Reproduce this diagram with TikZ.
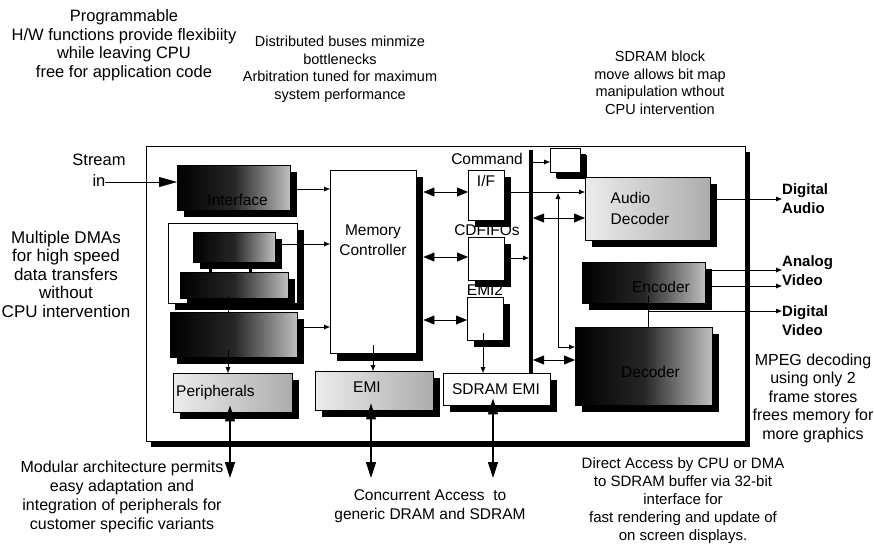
\documentclass[tikz,border=0pt]{standalone}
\usepackage{fontspec}
\setmainfont{Liberation Sans}
\usetikzlibrary{arrows.meta,shadows}
\begin{document}
\begin{tikzpicture}[x=1pt,y=-1pt,
  ann/.style={font=\fontsize{16}{18.5}\selectfont, align=center, inner sep=0},
  outl/.style={font=\bfseries\fontsize{15}{19}\selectfont, align=left, inner sep=0, anchor=west},
  lbl/.style={font=\fontsize{15.5}{17}\selectfont, inner sep=0},
  shad/.style={drop shadow={shadow xshift=7pt, shadow yshift=-7pt, fill=black, opacity=1}},
  wbox/.style={draw, fill=white, shad, anchor=north west, inner sep=0},
  dbox/.style={draw, left color=black, right color=gray!50, middle color=black!85, shad, anchor=north west, inner sep=0},
  lbox/.style={draw, left color=gray!15, right color=gray!65, shad, anchor=north west, inner sep=0},
  sarr/.style={-{Latex[length=6,width=5]}, thin},
  darr/.style={{Triangle[length=11,width=9]}-{Triangle[length=11,width=9]}, thin},
  vdarr/.style={{Triangle[length=16,width=10]}-{Triangle[length=16,width=10]}, line width=1.2},
]
\useasboundingbox (0,0) rectangle (874,547);

% outer box
\node[draw, fill=white, drop shadow={shadow xshift=5pt, shadow yshift=-6pt, fill=black, opacity=1},
  minimum width=599, minimum height=295, anchor=north west, inner sep=0] (outer) at (146,146) {};

% left column
\node[dbox, minimum width=113, minimum height=45] (iface) at (177,165) {};
\node[lbl, anchor=east] (ifacet) at (268,200) {Interface};
\node[wbox, minimum width=129, minimum height=80] (grp) at (168,223) {};
\node[dbox, minimum width=82, minimum height=30] (dma1) at (193,232) {};
\node[dbox, minimum width=108, minimum height=26] (dma2) at (180,272) {};
\draw[line width=3] (dma1.south -| 210,0) -- (dma2.north -| 210,0);
\draw[line width=3] (dma1.south -| 250,0) -- (dma2.north -| 250,0);
\node[dbox, minimum width=127, minimum height=45] (dma3) at (170,312) {};
\node[lbox, minimum width=119, minimum height=39] (periph) at (173,373) {};
\node[lbl, anchor=west] (periphl) at (176,392) {Peripherals};

% memory controller
\node[wbox, minimum width=86, minimum height=183, drop shadow={shadow xshift=7pt, shadow yshift=-8pt, fill=black, opacity=1}] (mc) at (330,170) {};
\node[lbl, align=center, font=\fontsize{15.5}{20}\selectfont] (mct) at (373,240) {Memory\\Controller};

% FIFO column
\node[wbox, minimum width=36, minimum height=50] (cmd) at (468,170) {};
\node[lbl] (cmdl) at (487,159) {Command};
\node[lbl] (cmdt) at (486,181) {I/F};
\node[wbox, minimum width=36, minimum height=43] (cdf) at (468,237) {};
\node[lbl] (cdfl) at (487,230) {CDFIFOs};
\node[wbox, minimum width=36, minimum height=43] (emi2) at (467,297) {};
\node[lbl] (emi2l) at (485,290) {EMI2};

% EMIs
\node[lbox, minimum width=118, minimum height=39] (emi) at (315,371) {};
\node[lbl] (emit) at (367,387) {EMI};
\node[wbox, minimum width=107, minimum height=32] (sdemi) at (443,373) {};
\node[lbl] (sdemit) at (496,389) {SDRAM EMI};

% bus
\coordinate (bustop) at (531,150);
\coordinate (busbot) at (531,373);
\draw[line width=4] (bustop) -- (busbot);

% right column
\node[wbox, minimum width=30, minimum height=24, drop shadow={shadow xshift=6pt, shadow yshift=-6pt, fill=black, opacity=1}] (small) at (550,148) {};
\node[lbox, minimum width=125, minimum height=63] (audio) at (585,177) {};
\node[lbl, align=left, font=\fontsize{15.5}{21}\selectfont] (audiot) at (640,208) {Audio\\Decoder};
\node[dbox, minimum width=123, minimum height=41] (enc) at (582,262) {};
\node[lbl, anchor=east] (enct) at (690,287) {Encoder};
\node[dbox, minimum width=137, minimum height=78] (dec) at (575,327) {};
\node[lbl, anchor=east] (dect) at (680,372) {Decoder};

% connectors left
\coordinate (sin) at (105,182);
\draw[-{Triangle[length=18,width=10]}, thin] (sin) -- (iface.west |- sin);
\draw[sarr] ([xshift=7]iface.east |- 0,189) -- (mc.west |- 0,189);
\draw[sarr] ([xshift=7]dma1.east |- 0,244) -- (mc.west |- 0,244);
\draw[sarr] ([xshift=7]dma3.east |- 0,327) -- (mc.west |- 0,327);
\draw[thin] ([yshift=7]grp.south -| 228,0) -- (dma3.north -| 228,0);
\draw[sarr] ([yshift=7]dma3.south -| 228,0) -- (periph.north -| 228,0);

% MC <-> FIFOs
\draw[darr] ([xshift=7]mc.east |- 0,192) -- (cmd.west |- 0,192);
\draw[darr] ([xshift=7]mc.east |- 0,257) -- (cdf.west |- 0,257);
\draw[darr] ([xshift=7]mc.east |- 0,320) -- (emi2.west |- 0,320);
\draw[sarr] ([yshift=8]mc.south -| 373,0) -- (emi.north -| 373,0);
\draw[sarr] ([yshift=7]emi2.south -| 483,0) -- (sdemi.north -| 483,0);

% bus connections
\draw[sarr] ([xshift=7]cmd.east |- 0,192) -- (audio.west |- 0,192);
\draw[sarr] ([xshift=7]cdf.east |- 0,258) -- ([xshift=-2]bustop |- 0,258);
\draw[sarr] ([xshift=2]bustop |- 0,162) -- (small.west |- 0,162);
\draw[darr] ([xshift=2]bustop |- 0,218) -- (audio.west |- 0,218);
\draw[darr] ([xshift=2]bustop |- 0,360) -- (dec.west |- 0,360);
\draw[{Latex[length=6,width=5]}-{Latex[length=6,width=5]}, thin] (558,193) -- (558,347) -- (dec.west |- 0,347);

% outputs
\node[outl] (dauo) at (782,199) {Digital\\Audio};
\node[outl] (avo) at (782,271) {Analog\\Video};
\node[outl] (dvo) at (782,321) {Digital\\Video};
\draw[sarr] ([xshift=7]audio.east |- 0,199) -- (dauo.west |- 0,199);
\draw[sarr] ([xshift=7]enc.east |- 0,270) -- (avo.west |- 0,270);
\draw[sarr] ([xshift=7]enc.east |- 0,286) -- (avo.west |- 0,286);
\draw[thin] ([yshift=7]enc.south -| 648,0) -- (dec.north -| 648,0);
\draw[sarr] (648,311) -- (dvo.west |- 0,311);

% bottom arrows
\draw[vdarr] ([yshift=7]periph.south -| 230,0) -- (230,478);
\draw[vdarr] ([yshift=7]emi.south -| 371,0) -- (371,478);
\draw[vdarr] ([yshift=7]sdemi.south -| 493,0) -- (493,478);

% annotations
\node[ann, font=\fontsize{16.5}{18.5}\selectfont] (t1) at (124,45) {Programmable\\H/W functions provide flexibiity\\while leaving CPU\\free for application code};
\node[ann, font=\fontsize{14.5}{17.5}\selectfont] (t2) at (340,69) {Distributed buses minmize\\bottlenecks\\Arbitration tuned for maximum\\system performance};
\node[ann, font=\fontsize{14.5}{17.5}\selectfont] (t3) at (660,83) {SDRAM block\\move allows bit map\\manipulation wthout\\CPU intervention};
\node[ann, font=\fontsize{16.5}{21}\selectfont] (t4) at (99,170) {Stream\\in};
\node[ann, font=\fontsize{17}{18.5}\selectfont] (t5) at (66,274) {Multiple DMAs\\for high speed\\data transfers\\without\\CPU intervention};
\node[ann] (t6) at (813,398) {MPEG decoding\\using only 2\\frame stores\\frees memory for\\more graphics};
\node[ann, font=\fontsize{16}{19}\selectfont] (t7) at (122,497) {Modular architecture permits\\easy adaptation and\\integration of peripherals for\\customer specific variants};
\node[ann, font=\fontsize{15.5}{19}\selectfont] (t8) at (430,506) {Concurrent Access\ \ to\\generic DRAM and SDRAM};
\node[ann, font=\fontsize{15}{18}\selectfont] (t9) at (683,501) {Direct Access by CPU or DMA\\to SDRAM buffer via 32-bit\\interface for\\fast rendering and update of\\on screen displays.};
\end{tikzpicture}
\end{document}
